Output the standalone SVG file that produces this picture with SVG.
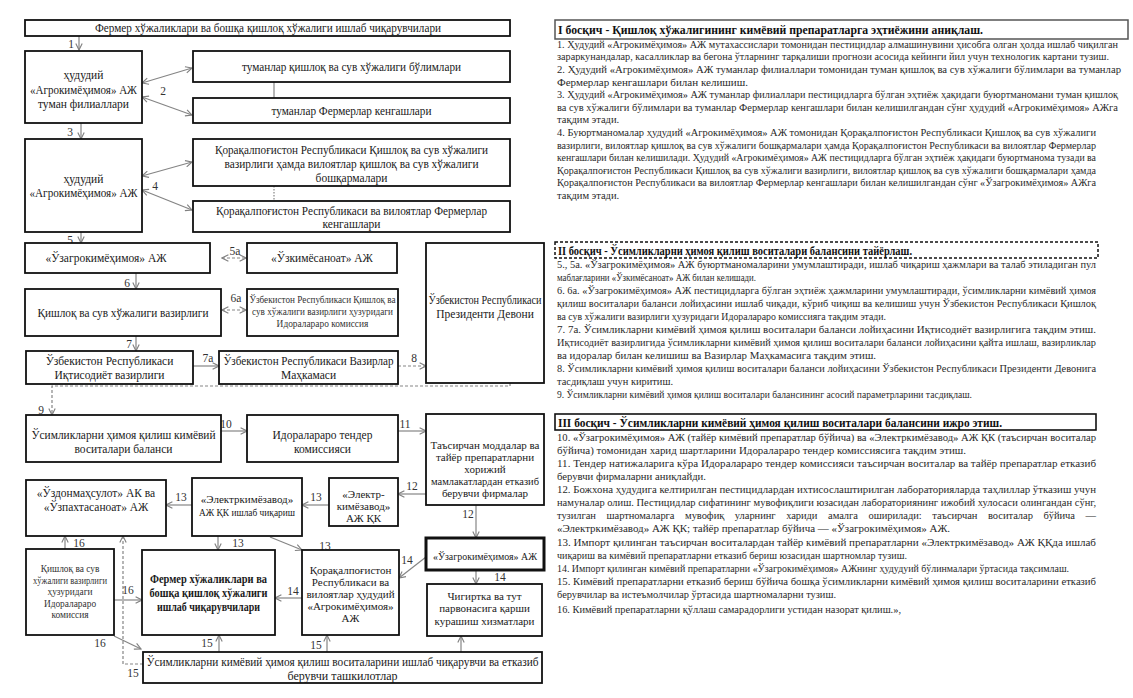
<svg xmlns="http://www.w3.org/2000/svg" width="1133" height="698" viewBox="0 0 1133 698">
<defs>
<marker id="ah" viewBox="0 0 10 10" refX="9" refY="5" markerWidth="8" markerHeight="8" orient="auto-start-reverse" markerUnits="userSpaceOnUse"><path d="M1,1 L9,5 L1,9" fill="none" stroke="#808080" stroke-width="1.4"/></marker>
<style>
.box{fill:#fff;stroke:#111;stroke-width:1.8}
.t{font-family:"Liberation Serif","Times New Roman",serif;font-size:11.5px;fill:#1a1a1a;text-anchor:middle}
.sm{font-size:9.4px;fill:#333}
.bd{font-weight:bold}
.lbl{font-family:"Liberation Serif","Times New Roman",serif;font-size:11.5px;fill:#333;text-anchor:middle}
.c{fill:none;stroke:#858585;stroke-width:1.2}
.a{marker-end:url(#ah)}
.aa{marker-start:url(#ah);marker-end:url(#ah)}
.d{stroke-dasharray:3 2}
.p{font-family:"Liberation Serif","Times New Roman",serif;font-size:10.5px;fill:#2a2a2a}
.ps{font-size:9.3px}
.h{font-family:"Liberation Serif","Times New Roman",serif;font-size:11.5px;font-weight:bold;fill:#111}
</style>
</defs>
<rect width="1133" height="698" fill="#fff"/>

<g id="connectors">
<path class="c a" d="M79,36 V50"/>
<path class="c aa" d="M142,83 L192,68"/>
<path class="c aa" d="M142,97 L192,115"/>
<path class="c" d="M274,82 V98"/>
<path class="c a" d="M81,123 V139"/>
<path class="c aa" d="M142,176 L192,162"/>
<path class="c aa" d="M142,190 L192,210"/>
<path class="c" stroke-dasharray="1.5 1.5" d="M274,186 V201"/>
<path class="c a" d="M81,232 V243"/>
<path class="c aa d" d="M222,258 H246"/>
<path class="c a" d="M136,273 V289"/>
<path class="c aa d" d="M222,310 H246"/>
<path class="c a" d="M136,336 V351"/>
<path class="c a" d="M193,366 H219"/>
<path class="c a d" d="M398,366 H426"/>
<path class="c a d" d="M510,383 V386 H52 V415"/>
<path class="c a" d="M221,431 H247"/>
<path class="c a" d="M398,431 H426"/>
<path class="c a" d="M426,494 H398"/>
<path class="c a" d="M329,505 H302"/>
<path class="c a" d="M192,505 H166"/>
<path class="c a" d="M476,505 V538"/>
<path class="c a" d="M476,570 V584"/>
<path class="c a" d="M426,557 L399,578"/>
<path class="c a" d="M218,536 V550"/>
<path class="c a" d="M270,537 L302,550"/>
<path class="c a" d="M302,598 H275"/>
<path class="c a" d="M65,549 V536"/>
<path class="c a" d="M114,600 H142"/>
<path class="c a" d="M114,636 L141,649"/>
<path class="c a d" d="M143,664 H123 V536"/>
<path class="c a" d="M219,652 V635"/>
<path class="c a" d="M327,652 V635"/>
<path class="c a" d="M461,652 V636"/>
<text class="lbl" x="71" y="48">1</text>
<text class="lbl" x="163" y="95">2</text>
<text class="lbl" x="70" y="136">3</text>
<text class="lbl" x="155" y="190">4</text>
<text class="lbl" x="70" y="244">5</text>
<text class="lbl" x="235" y="255">5а</text>
<text class="lbl" x="127" y="287">6</text>
<text class="lbl" x="236" y="302">6а</text>
<text class="lbl" x="129" y="348">7</text>
<text class="lbl" x="208" y="362">7а</text>
<text class="lbl" x="414" y="362">8</text>
<text class="lbl" x="41" y="414">9</text>
<text class="lbl" x="226" y="428">10</text>
<text class="lbl" x="405" y="428">11</text>
<text class="lbl" x="412" y="490">12</text>
<text class="lbl" x="316" y="501">13</text>
<text class="lbl" x="181" y="501">13</text>
<text class="lbl" x="468" y="518">12</text>
<text class="lbl" x="500" y="581">14</text>
<text class="lbl" x="407" y="564">14</text>
<text class="lbl" x="238" y="547">13</text>
<text class="lbl" x="325" y="550">13</text>
<text class="lbl" x="293" y="595">14</text>
<text class="lbl" x="79" y="547">16</text>
<text class="lbl" x="128" y="594">16</text>
<text class="lbl" x="100" y="647">16</text>
<text class="lbl" x="207" y="647">15</text>
<text class="lbl" x="316" y="649">15</text>
<text class="lbl" x="133" y="677">15</text>
</g>

<g id="n-top"><rect class="box" x="25" y="20" width="485" height="16"/><text class="t" x="268" y="32" textLength="346" lengthAdjust="spacingAndGlyphs">Фермер хўжаликлари ва бошқа қишлоқ хўжалиги ишлаб чиқарувчилари</text></g>
<g id="n-tuman-filial"><rect class="box" x="25" y="51" width="117" height="72"/><text class="t" x="83.5" y="79">ҳудудий</text><text class="t" x="83.5" y="94" textLength="107" lengthAdjust="spacingAndGlyphs">«Агрокимёҳимоя» АЖ</text><text class="t" x="83.5" y="108">туман филиаллари</text></g>
<g id="n-tuman-qishloq"><rect class="box" x="193" y="51" width="317" height="31"/><text class="t" x="351.5" y="71" textLength="219" lengthAdjust="spacingAndGlyphs">туманлар қишлоқ ва сув хўжалиги бўлимлари</text></g>
<g id="n-tuman-fermer"><rect class="box" x="193" y="98" width="317" height="25"/><text class="t" x="351.5" y="115" textLength="160" lengthAdjust="spacingAndGlyphs">туманлар Фермерлар кенгашлари</text></g>
<g id="n-hududiy"><rect class="box" x="25" y="139" width="117" height="93"/><text class="t" x="83.5" y="183">ҳудудий</text><text class="t" x="83.5" y="197" textLength="108" lengthAdjust="spacingAndGlyphs">«Агрокимёҳимоя» АЖ</text></g>
<g id="n-qq-vazirlik"><rect class="box" x="193" y="139" width="317" height="47"/><text class="t" x="351.5" y="154" textLength="273" lengthAdjust="spacingAndGlyphs">Қорақалпоғистон Республикаси Қишлоқ ва сув хўжалиги</text><text class="t" x="351.5" y="168" textLength="254" lengthAdjust="spacingAndGlyphs">вазирлиги ҳамда вилоятлар қишлоқ ва сув хўжалиги</text><text class="t" x="351.5" y="182">бошқармалари</text></g>
<g id="n-qq-fermer"><rect class="box" x="193" y="201" width="317" height="31"/><text class="t" x="351.5" y="215" textLength="271" lengthAdjust="spacingAndGlyphs">Қорақалпоғистон Республикаси ва вилоятлар Фермерлар</text><text class="t" x="351.5" y="228">кенгашлари</text></g>
<g id="n-uzagro"><rect class="box" x="25" y="243" width="185" height="30"/><text class="t" x="106" y="262">«Ўзагрокимёҳимоя» АЖ</text></g>
<g id="n-uzkimyo"><rect class="box" x="247" y="243" width="150" height="30"/><text class="t" x="322" y="262">«Ўзкимёсаноат»  АЖ</text></g>
<g id="n-vazirlik"><rect class="box" x="25" y="289" width="196" height="47"/><text class="t" x="123" y="317" style="font-size:12.5px" textLength="171" lengthAdjust="spacingAndGlyphs">Қишлоқ ва сув хўжалиги вазирлиги</text></g>
<g id="n-idora-kom"><rect class="box" x="247" y="289" width="151" height="47"/><text class="t sm" x="322.5" y="303" textLength="146" lengthAdjust="spacingAndGlyphs">Ўзбекистон Республикаси Қишлоқ ва</text><text class="t sm" x="322.5" y="315" textLength="141" lengthAdjust="spacingAndGlyphs">сув хўжалиги вазирлиги ҳузуридаги</text><text class="t sm" x="322.5" y="327">Идоралараро комиссия</text></g>
<g id="n-prezident"><rect class="box" x="426" y="243" width="118" height="140"/><text class="t" x="485" y="304" textLength="113" lengthAdjust="spacingAndGlyphs">Ўзбекистон Республикаси</text><text class="t" x="485" y="318">Президенти Девони</text></g>
<g id="n-iqtisod"><rect class="box" x="26" y="351" width="167" height="33"/><text class="t" x="109.5" y="365">Ўзбекистон Республикаси</text><text class="t" x="109.5" y="379">Иқтисодиёт вазирлиги</text></g>
<g id="n-vazirlar"><rect class="box" x="219" y="351" width="179" height="33"/><text class="t" x="308.5" y="365" textLength="170" lengthAdjust="spacingAndGlyphs">Ўзбекистон Республикаси Вазирлар</text><text class="t" x="308.5" y="379">Маҳкамаси</text></g>
<g id="n-balans"><rect class="box" x="26" y="415" width="195" height="47"/><text class="t" x="123.5" y="439" textLength="184" lengthAdjust="spacingAndGlyphs">Ўсимликларни ҳимоя қилиш кимёвий</text><text class="t" x="123.5" y="453">воситалари баланси</text></g>
<g id="n-tender"><rect class="box" x="247" y="415" width="151" height="47"/><text class="t" x="322.5" y="439">Идоралараро тендер</text><text class="t" x="322.5" y="453">комиссияси</text></g>
<g id="n-tasirchan"><rect class="box" x="426" y="414" width="118" height="91"/><text class="t" x="485" y="449" style="font-size:11px">Таъсирчан моддалар ва</text><text class="t" x="485" y="461" style="font-size:11px">тайёр препаратларни</text><text class="t" x="485" y="473" style="font-size:11px">хорижий</text><text class="t" x="485" y="485" style="font-size:11px" textLength="108" lengthAdjust="spacingAndGlyphs">мамлакатлардан етказиб</text><text class="t" x="485" y="497" style="font-size:11px">берувчи фирмалар</text></g>
<g id="n-elektr-kk"><rect class="box" x="329" y="478" width="69" height="48"/><text class="t" x="363.5" y="498" style="font-size:11px">«Электр-</text><text class="t" x="363.5" y="510" style="font-size:11px">кимёзавод»</text><text class="t" x="363.5" y="522" style="font-size:11px">АЖ ҚК</text></g>
<g id="n-elektr-ishlab"><rect class="box" x="192" y="478" width="110" height="58"/><text class="t" x="247" y="503" style="font-size:11px">«Электркимёзавод»</text><text class="t" x="247" y="516" style="font-size:11px" textLength="96" lengthAdjust="spacingAndGlyphs">АЖ ҚК ишлаб чиқариш</text></g>
<g id="n-uzdon"><rect class="box" x="26" y="480" width="140" height="56"/><text class="t" x="96" y="497">«Ўздонмаҳсулот» АК ва</text><text class="t" x="96" y="511">«Ўзпахтасаноат» АЖ</text></g>
<g id="n-uzagro2"><rect class="box" x="426" y="538" width="118" height="32" style="stroke-width:3"/><text class="t" x="485" y="560" style="font-size:11px" textLength="104" lengthAdjust="spacingAndGlyphs">«Ўзагрокимёҳимоя» АЖ</text></g>
<g id="n-chigirtka"><rect class="box" x="427" y="584" width="115" height="52"/><text class="t" x="484.5" y="600" style="font-size:11px">Чигиртка ва тут</text><text class="t" x="484.5" y="612" style="font-size:11px">парвонасига қарши</text><text class="t" x="484.5" y="625" style="font-size:11px">курашиш хизматлари</text></g>
<g id="n-fermer2"><rect class="box" x="142" y="550" width="133" height="85"/><text class="t bd" x="208.5" y="583" style="font-size:12px" textLength="117" lengthAdjust="spacingAndGlyphs">Фермер хўжаликлари ва</text><text class="t bd" x="208.5" y="597" style="font-size:12px" textLength="118" lengthAdjust="spacingAndGlyphs">бошқа қишлоқ хўжалиги</text><text class="t bd" x="208.5" y="611" style="font-size:12px" textLength="103" lengthAdjust="spacingAndGlyphs">ишлаб чиқарувчилари</text></g>
<g id="n-qq-agro"><rect class="box" x="302" y="550" width="97" height="85"/><text class="t" x="350.5" y="574" style="font-size:11px">Қорақалпоғистон</text><text class="t" x="350.5" y="586" style="font-size:11px">Республикаси ва</text><text class="t" x="350.5" y="598" style="font-size:11px">вилоятлар ҳудудий</text><text class="t" x="350.5" y="610" style="font-size:11px">«Агрокимёҳимоя»</text><text class="t" x="350.5" y="622" style="font-size:11px">АЖ</text></g>
<g id="n-idora2"><rect class="box" x="26" y="549" width="88" height="86"/><text class="t sm" x="70" y="572">Қишлоқ ва сув</text><text class="t sm" x="70" y="583.5" textLength="74" lengthAdjust="spacingAndGlyphs">хўжалиги вазирлиги</text><text class="t sm" x="70" y="595">ҳузуридаги</text><text class="t sm" x="70" y="606.5">Идоралараро</text><text class="t sm" x="70" y="618">комиссия</text></g>
<g id="n-bottom"><rect class="box" x="143" y="652" width="399" height="31"/><text class="t" x="342.5" y="666" style="font-size:12px" textLength="392" lengthAdjust="spacingAndGlyphs">Ўсимликларни кимёвий ҳимоя қилиш воситаларини ишлаб чиқарувчи ва етказиб</text><text class="t" x="342.5" y="680" style="font-size:12px">берувчи ташкилотлар</text></g>

<g id="stage1">
<rect x="555" y="20" width="573" height="19" fill="#fff" stroke="#555" stroke-width="1.5"/>
<text class="h" x="558" y="34" textLength="425" lengthAdjust="spacingAndGlyphs">I босқич - Қишлоқ хўжалигининг кимёвий препаратларга эҳтиёжини аниқлаш.</text>
<text class="p" x="557" y="47.7" textLength="561" lengthAdjust="spacingAndGlyphs">1. Ҳудудий «Агрокимёҳимоя» АЖ мутахассислари томонидан пестицидлар алмашинувини ҳисобга олган ҳолда ишлаб чиқилган</text>
<text class="p ps" x="557" y="60.3" textLength="552" lengthAdjust="spacingAndGlyphs">зараркунандалар, касалликлар ва бегона ўтларнинг тарқалиши прогнози асосида кейинги йил учун технологик картани тузиш.</text>
<text class="p" x="557" y="72.9" textLength="564" lengthAdjust="spacingAndGlyphs">2. Ҳудудий «Агрокимёҳимоя» АЖ туманлар филиаллари томонидан туман қишлоқ ва сув хўжалиги бўлимлари ва туманлар</text>
<text class="p" x="557" y="85.5" textLength="191" lengthAdjust="spacingAndGlyphs">Фермерлар кенгашлари билан келишиш.</text>
<text class="p" x="557" y="98.1" textLength="561" lengthAdjust="spacingAndGlyphs">3. Ҳудудий «Агрокимёҳимоя» АЖ туманлар филиаллари пестицидларга бўлган эҳтиёж ҳақидаги буюртманомани туман қишлоқ</text>
<text class="p" x="557" y="110.7" textLength="561" lengthAdjust="spacingAndGlyphs">ва сув хўжалиги бўлимлари ва туманлар Фермерлар кенгашлари билан келишилгандан сўнг ҳудудий «Агрокимёҳимоя» АЖга</text>
<text class="p" x="557" y="123.3">тақдим этади.</text>
<text class="p" x="557" y="135.9" textLength="539" lengthAdjust="spacingAndGlyphs">4. Буюртманомалар ҳудудий «Агрокимёҳимоя» АЖ томонидан Қорақалпоғистон Республикаси Қишлоқ ва сув хўжалиги</text>
<text class="p" x="557" y="148.5" textLength="539" lengthAdjust="spacingAndGlyphs">вазирлиги, вилоятлар қишлоқ ва сув хўжалиги бошқармалари ҳамда Қорақалпоғистон Республикаси ва вилоятлар Фермерлар</text>
<text class="p" x="557" y="161.1" textLength="539" lengthAdjust="spacingAndGlyphs">кенгашлари билан келишилади. Ҳудудий «Агрокимёҳимоя» АЖ  пестицидларга бўлган эҳтиёж ҳақидаги буюртманома тузади ва</text>
<text class="p" x="557" y="173.7" textLength="539" lengthAdjust="spacingAndGlyphs">Қорақалпоғистон Республикаси Қишлоқ ва сув хўжалиги вазирлиги, вилоятлар қишлоқ ва сув хўжалиги бошқармалари ҳамда</text>
<text class="p" x="557" y="186.3" textLength="539" lengthAdjust="spacingAndGlyphs">Қорақалпоғистон Республикаси ва вилоятлар Фермерлар кенгашлари билан келишилгандан сўнг «Ўзагрокимёҳимоя» АЖга</text>
<text class="p" x="557" y="198.9">тақдим этади.</text>
</g>

<g id="stage2">
<rect x="555" y="242" width="543" height="16" fill="#fff" stroke="#111" stroke-width="1.5" stroke-dasharray="3 2"/>
<text class="h" x="558" y="254.5" textLength="354" lengthAdjust="spacingAndGlyphs">II босқич - Ўсимликларни ҳимоя қилиш воситалари балансини тайёрлаш.</text>
<text class="p" x="557" y="267.7" textLength="539" lengthAdjust="spacingAndGlyphs">5., 5а. «Ўзагрокимёҳимоя» АЖ буюртманомаларини умумлаштиради, ишлаб чиқариш ҳажмлари ва талаб этиладиган пул</text>
<text class="p ps" x="557" y="280.7" textLength="199" lengthAdjust="spacingAndGlyphs">маблағларини «Ўзкимёсаноат» АЖ билан келишади.</text>
<text class="p" x="557" y="293.7" textLength="539" lengthAdjust="spacingAndGlyphs">6. 6а. «Ўзагрокимёҳимоя» АЖ пестицидларга бўлган эҳтиёж ҳажмларини умумлаштиради, ўсимликларни кимёвий ҳимоя</text>
<text class="p" x="557" y="306.7" textLength="539" lengthAdjust="spacingAndGlyphs">қилиш воситалари баланси лойиҳасини ишлаб чиқади, кўриб чиқиш ва келишиш учун Ўзбекистон Республикаси Қишлоқ</text>
<text class="p" x="557" y="319.7" textLength="329" lengthAdjust="spacingAndGlyphs">ва сув хўжалиги вазирлиги ҳузуридаги Идоралараро комиссияга тақдим этади.</text>
<text class="p" x="557" y="332.7" textLength="539" lengthAdjust="spacingAndGlyphs">7. 7а. Ўсимликларни кимёвий ҳимоя қилиш воситалари баланси лойиҳасини Иқтисодиёт вазирлигига тақдим этиш.</text>
<text class="p" x="557" y="345.7" textLength="539" lengthAdjust="spacingAndGlyphs">Иқтисодиёт вазирлигида ўсимликларни кимёвий ҳимоя қилиш воситалари баланси лойиҳасини қайта ишлаш, вазирликлар</text>
<text class="p" x="557" y="358.7" textLength="319" lengthAdjust="spacingAndGlyphs">ва идоралар билан келишиш ва Вазирлар Маҳкамасига тақдим этиш.</text>
<text class="p" x="557" y="371.7" textLength="539" lengthAdjust="spacingAndGlyphs">8. Ўсимликларни кимёвий ҳимоя қилиш воситалари баланси лойиҳасини Ўзбекистон Республикаси Президенти Девонига</text>
<text class="p" x="557" y="384.7" textLength="116" lengthAdjust="spacingAndGlyphs">тасдиқлаш учун  киритиш.</text>
<text class="p" x="557" y="397.7" textLength="415" lengthAdjust="spacingAndGlyphs">9. Ўсимликларни кимёвий ҳимоя қилиш воситалари балансининг асосий параметрларини тасдиқлаш.</text>
</g>

<g id="stage3">
<rect x="555" y="414" width="541" height="16" fill="#fff" stroke="#111" stroke-width="1.6"/>
<text class="h" x="558" y="426.5" textLength="444" lengthAdjust="spacingAndGlyphs">III босқич - Ўсимликларни кимёвий ҳимоя қилиш воситалари балансини ижро этиш.</text>
<text class="p" x="557" y="440.7" textLength="539" lengthAdjust="spacingAndGlyphs">10. «Ўзагрокимёҳимоя» АЖ (тайёр кимёвий препаратлар бўйича) ва «Электркимёзавод» АЖ ҚК (таъсирчан воситалар</text>
<text class="p" x="557" y="453.8" textLength="409" lengthAdjust="spacingAndGlyphs">бўйича)  томонидан харид шартларини Идоралараро тендер комиссиясига тақдим этиш.</text>
<text class="p" x="557" y="466.9" textLength="539" lengthAdjust="spacingAndGlyphs">11. Тендер натижаларига кўра Идоралараро тендер комиссияси таъсирчан воситалар ва тайёр препаратлар етказиб</text>
<text class="p" x="557" y="480" textLength="149" lengthAdjust="spacingAndGlyphs">берувчи фирмаларни аниқлайди.</text>
<text class="p" x="557" y="493.1" textLength="539" lengthAdjust="spacingAndGlyphs">12. Божхона ҳудудига келтирилган пестицидлардан ихтисослаштирилган лабораторияларда таҳлиллар ўтказиш учун</text>
<text class="p" x="557" y="506.2" textLength="539" lengthAdjust="spacingAndGlyphs">намуналар олиш. Пестицидлар сифатининг мувофиқлиги юзасидан лабораториянинг ижобий хулосаси олингандан сўнг,</text>
<text class="p" x="557" y="519.3" textLength="539" lengthAdjust="spacing" word-spacing="8">тузилган шартномаларга мувофиқ уларнинг хариди амалга оширилади: таъсирчан воситалар бўйича —</text>
<text class="p" x="557" y="532.4" textLength="393" lengthAdjust="spacingAndGlyphs">«Электркимёзавод» АЖ ҚК; тайёр препаратлар бўйича — «Ўзагрокимёҳимоя» АЖ.</text>
<text class="p" x="557" y="545.5" textLength="539" lengthAdjust="spacingAndGlyphs">13. Импорт қилинган таъсирчан воситалардан тайёр кимёвий препаратларни «Электркимёзавод» АЖ ҚҚда ишлаб</text>
<text class="p ps" x="557" y="558.6" textLength="350" lengthAdjust="spacingAndGlyphs">чиқариш ва кимёвий препаратларни етказиб бериш юзасидан шартномлар тузиш.</text>
<text class="p" x="557" y="571.7" textLength="512" lengthAdjust="spacingAndGlyphs">14. Импорт қилинган кимёвий препаратларни «Ўзагрокимёҳимоя» АЖнинг ҳудудуий бўлинмалари ўртасида тақсимлаш.</text>
<text class="p" x="557" y="584.8" textLength="539" lengthAdjust="spacingAndGlyphs">15. Кимёвий препаратларни етказиб бериш бўйича бошқа ўсимликларни кимёвий ҳимоя қилиш воситаларини етказиб</text>
<text class="p ps" x="557" y="597.9" textLength="279" lengthAdjust="spacingAndGlyphs">берувчилар ва истеъмолчилар ўртасида шартномаларни тузиш.</text>
<text class="p" x="557" y="612.7" textLength="344" lengthAdjust="spacingAndGlyphs">16. Кимёвий препаратларни  қўллаш самарадорлиги устидан назорат қилиш.»,</text>
</g>
</svg>
